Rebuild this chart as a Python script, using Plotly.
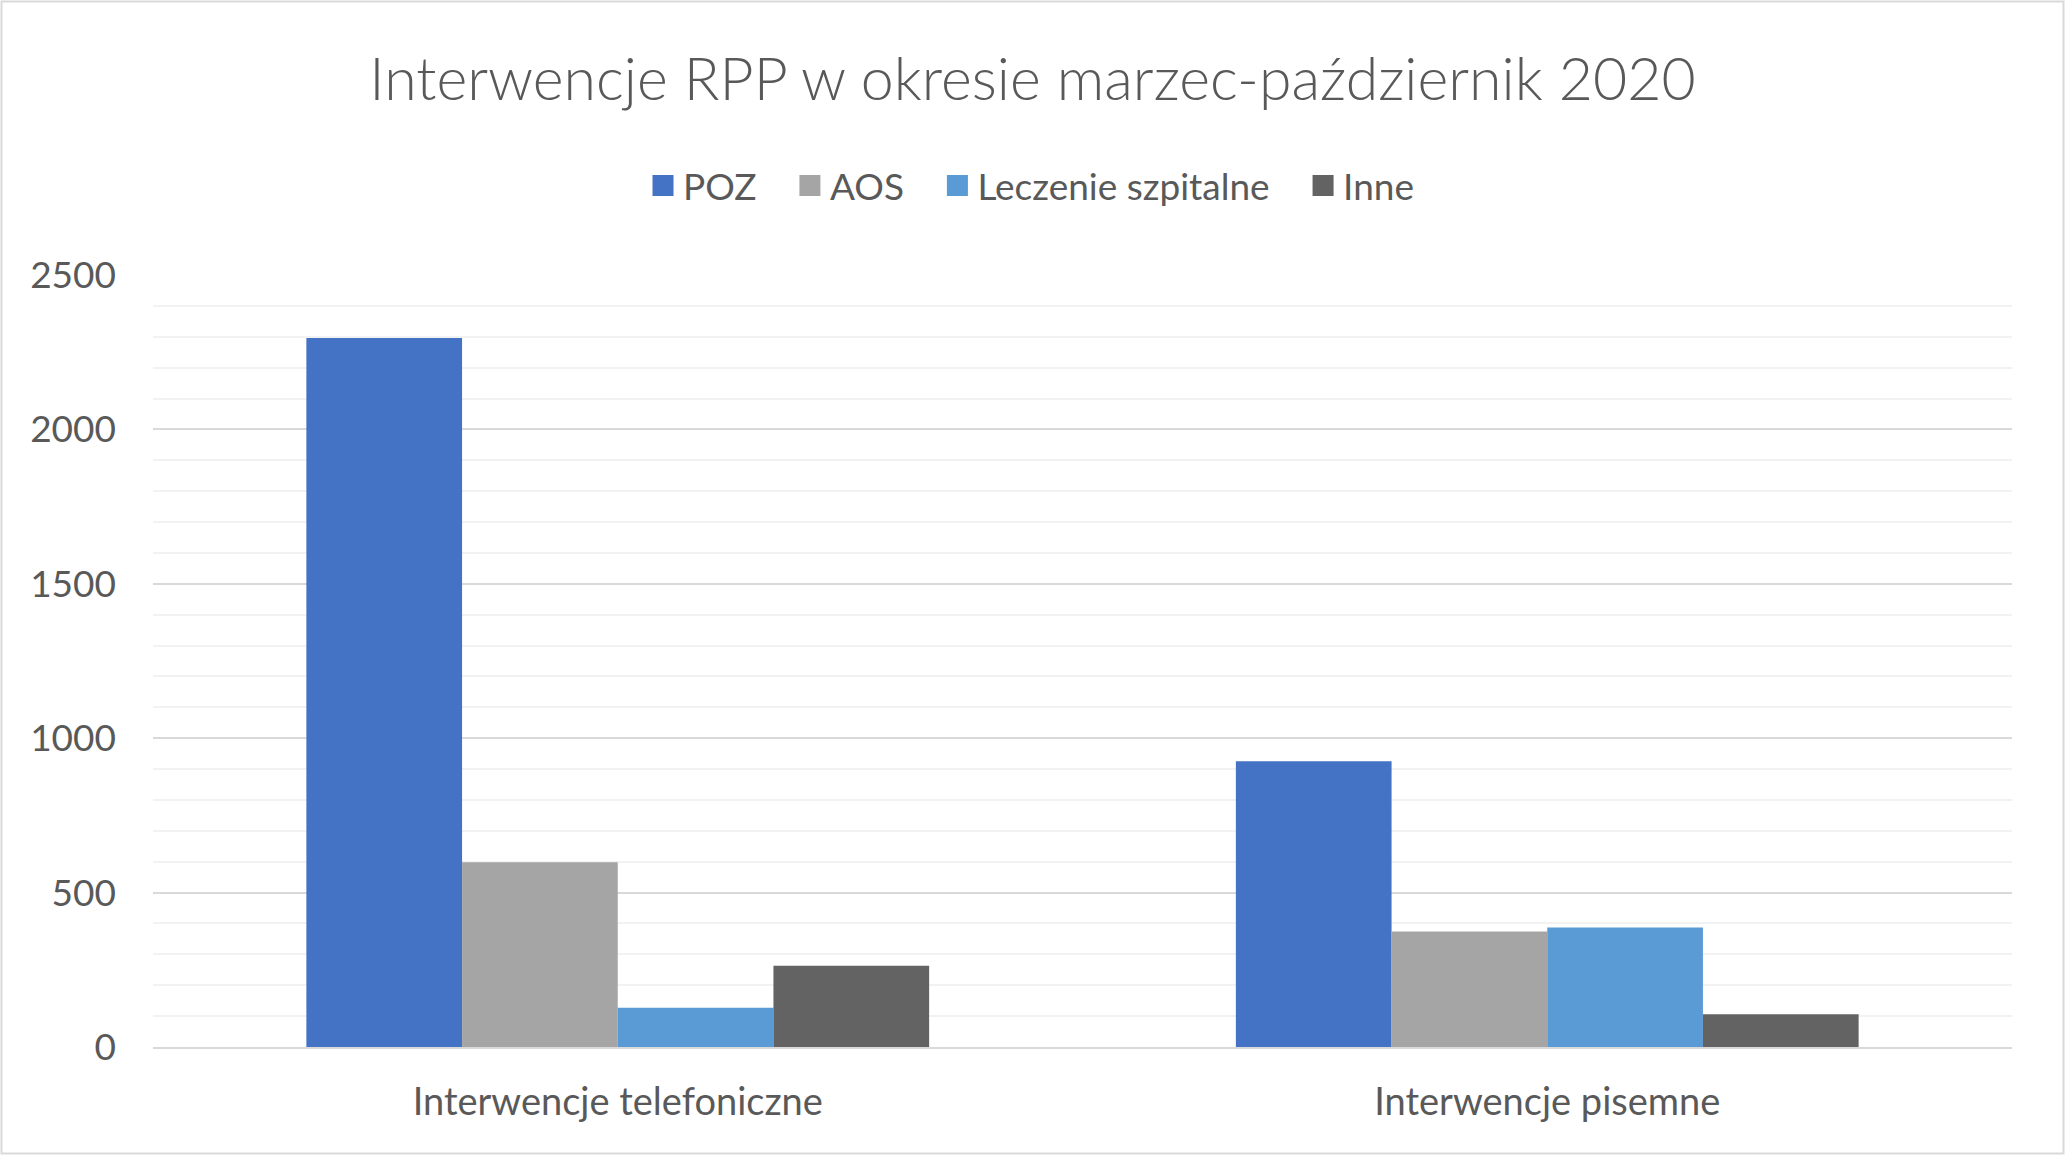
import plotly.graph_objects as go

categories = ["Interwencje telefoniczne", "Interwencje pisemne"]
series_names = ["POZ", "AOS", "Leczenie szpitalne", "Inne"]
poz = [2296, 925]
aos = [598, 374]
leczenie = [127, 387]
inne = [263, 106]
series_values = [poz, aos, leczenie, inne]
colors = ["#4472C4", "#A5A5A5", "#5B9BD5", "#636363"]
y_ticks = [0, 500, 1000, 1500, 2000, 2500]

W, H = 2065, 1155
ML, MR, MT, MB = 153, 53, 275, 108
PW, PH = W - ML - MR, H - MT - MB

TEXT = "#595959"
FONT = "Lato"
PAD = "\u00a0" * 3

fig = go.Figure()
for name, vals, col in zip(series_names, series_values, colors):
    fig.add_trace(go.Bar(x=categories, y=vals, name=name, marker_color=col,
                         marker_line_width=0, showlegend=False))
for i, (name, col) in enumerate(zip(series_names, colors)):
    label = name + (PAD if i < len(series_names) - 1 else "")
    fig.add_trace(go.Scatter(x=[None], y=[None], mode="markers", name=label,
                             marker=dict(symbol="square", size=16, color=col,
                                         line=dict(color=col, width=5)),
                             showlegend=True))

fig.update_layout(
    width=W, height=H,
    margin=dict(l=ML, r=MR, t=MT, b=MB),
    paper_bgcolor="white", plot_bgcolor="white",
    barmode="group", bargap=0.33, bargroupgap=0,
    font=dict(family=FONT, color=TEXT, size=38),
    title=dict(text="Interwencje RPP w okresie marzec-październik 2020",
               x=0.5, xanchor="center", y=1 - 79 / H, yanchor="middle",
               font=dict(family=FONT, size=59, color=TEXT, weight=300)),
    legend=dict(orientation="h", x=(643 - ML) / PW, xanchor="left",
                y=(H - MB - 186) / PH, yanchor="middle",
                font=dict(size=37, color=TEXT), itemsizing="trace",
                bgcolor="rgba(0,0,0,0)"),
    xaxis=dict(showgrid=False, showline=True, linecolor="#D9D9D9", linewidth=2,
               ticks="", ticklabelstandoff=20, tickfont=dict(size=38, color=TEXT)),
    yaxis=dict(range=[0, 2500], tickvals=y_ticks, showgrid=True,
               gridcolor="#D9D9D9", gridwidth=2, zeroline=False, showline=False,
               ticks="", ticklabelstandoff=36, tickfont=dict(size=37, color=TEXT),
               minor=dict(dtick=100, showgrid=True, gridcolor="#F2F2F2", gridwidth=2)),
    shapes=[dict(type="rect", xref="paper", yref="paper",
                 x0=-(ML - 1.5) / PW, x1=1 + (MR - 1.5) / PW,
                 y0=-(MB - 1.5) / PH, y1=1 + (MT - 1.5) / PH,
                 line=dict(color="#D9D9D9", width=2), layer="below")],
)

fig.write_html("out.html", config={"displayModeBar": False},
               post_script="document.body.style.margin='0px';")
